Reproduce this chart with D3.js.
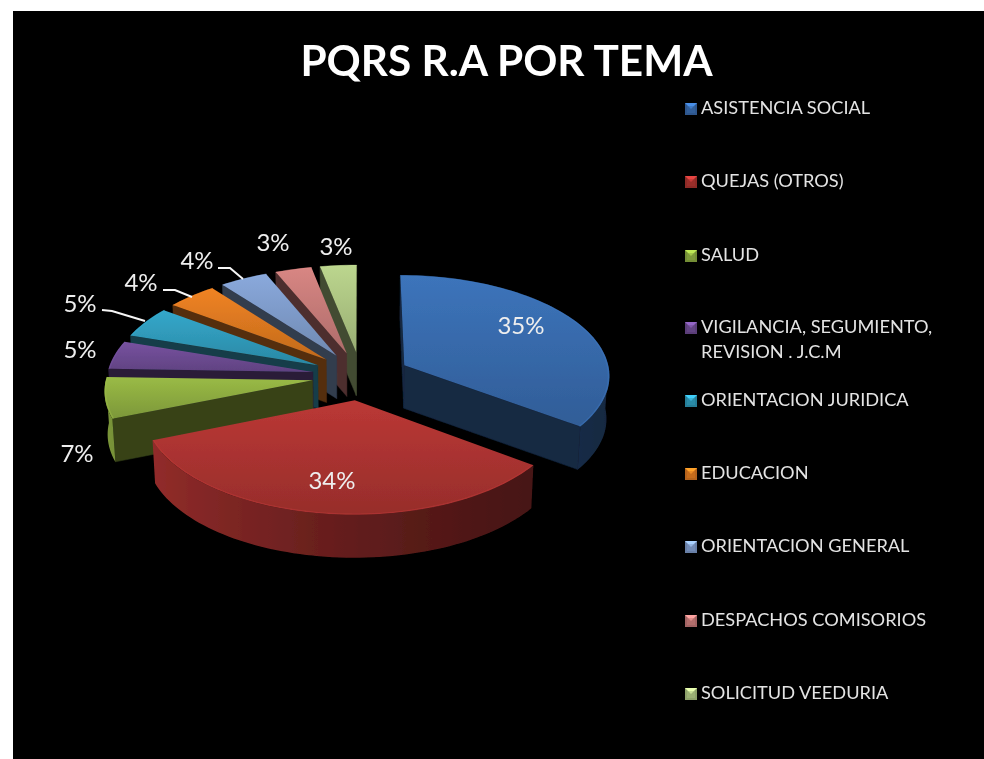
<!DOCTYPE html>
<html>
<head>
<meta charset="utf-8">
<script src="https://cdn.jsdelivr.net/npm/d3@7"></script>
<style>
  html, body { margin: 0; padding: 0; background: #fff; }
  svg { display: block; }
  text { font-family: Lato, "Open Sans", sans-serif; }
</style>
</head>
<body>
<svg></svg>
<script>
var categories = ["ASISTENCIA SOCIAL", "QUEJAS (OTROS)", "SALUD", "VIGILANCIA, SEGUMIENTO, REVISION . J.C.M", "ORIENTACION JURIDICA", "EDUCACION", "ORIENTACION GENERAL", "DESPACHOS COMISORIOS", "SOLICITUD VEEDURIA"];
// the chart only prints them rounded
var values = [35, 34, 6.5, 4.5, 5, 4.4, 4.2, 3.2, 3.2];
var colors = ["#3668a8", "#a83230", "#8aa83f", "#6b4a90", "#2f97b6", "#d8761f", "#7c98c6", "#c27876", "#a9c080"];

// where the percent labels sit, same order as categories
var labelX = [521, 332, 77, 80, 80, 141, 197, 273, 336];
var labelY = [325, 480, 453, 349, 303, 282, 260, 242, 246];
// leader lines, only three labels have one: [index, from, elbow, to]
var leaders = [
  [4, [102, 310], [112, 311], [145, 321]],
  [5, [163, 290], [175, 290], [192, 297]],
  [6, [218, 268], [230, 268], [243, 279]]
];

var width = 984;
var height = 759;

// pie geometry
var cx = 361, cy = 376;
var R = 206, squash = 101, persp = 0.09;
var explode = 49, wallH = 43;

var svg = d3.select("svg").attr("width", width).attr("height", height);
var defs = svg.append("defs");
defs.append("filter").attr("id", "soft")
    .attr("x", "-5%").attr("y", "-5%").attr("width", "110%").attr("height", "110%")
  .append("feGaussianBlur").attr("stdDeviation", 0.5);

svg.append("rect")
    .attr("x", 13).attr("y", 11)
    .attr("width", width - 13).attr("height", height - 11)
    .attr("fill", "#000");

var root = svg.append("g").attr("filter", "url(#soft)");

var color = d3.scaleOrdinal().domain(categories).range(colors);

var arcs = d3.pie().sort(null).value(d => d)(values);

var line = d3.line();

// world point on the pie plane to screen, h = 0 on top and 1 at the wall foot
function project(wx, wy, h) {
  var v = wy / R;
  var s = 1 + persp * v;
  var shrink = 1 - 0.012 * h;
  return [cx + wx * s * shrink, cy + squash * v * s + h * wallH];
}

function makeSlice(d, i) {
  var mid = (d.startAngle + d.endAngle) / 2;
  var ox = explode * Math.sin(mid);
  var oy = -explode * Math.cos(mid);
  var pt = (a, r, h) => project(ox + r * Math.sin(a), oy - r * Math.cos(a), h);
  var steps = Math.max(3, Math.ceil((d.endAngle - d.startAngle) / 0.03));
  var angles = d3.range(steps + 1).map(n => d.startAngle + (d.endAngle - d.startAngle) * n / steps);
  return {
    i: i,
    base: colors[i],
    pt: pt,
    angles: angles,
    top: [pt(0, 0, 0)].concat(angles.map(a => pt(a, R, 0)))
  };
}

var slices = arcs.map(makeSlice);

// back to front
var order = [8, 7, 6, 5, 4, 3, 2, 0, 1];
var pieG = root.append("g");

order.forEach(function(i) {
  var sl = slices[i];
  var g = pieG.append("g");
  var wallColor = d3.color(sl.base).darker(2.6).formatHex();
  var first = sl.angles[0], last = sl.angles[sl.angles.length - 1];

  // cut faces, only the ones that turn to the viewer
  var startWall = [sl.pt(0, 0, 0), sl.pt(first, R, 0), sl.pt(first, R, 1), sl.pt(0, 0, 1)];
  var endWall = [sl.pt(last, R, 0), sl.pt(0, 0, 0), sl.pt(0, 0, 1), sl.pt(last, R, 1)];
  [startWall, endWall].forEach(function(w) {
    if (d3.polygonArea(w) < 0) return;
    g.append("path")
        .attr("d", line(w) + "Z")
        .attr("fill", wallColor)
        .attr("stroke", wallColor)
        .attr("stroke-width", 0.5);
  });

  // outer wall, gets darker to the right
  var front = sl.angles.filter(a => Math.cos(a) < 0.02);
  if (front.length > 1) {
    var xs = front.map(a => sl.pt(a, R, 0)[0]);
    var x0 = d3.min(xs), x1 = d3.max(xs);
    var wallGrad = defs.append("linearGradient").attr("id", "wall" + i)
        .attr("gradientUnits", "userSpaceOnUse")
        .attr("x1", x0).attr("y1", 0).attr("x2", x1).attr("y2", 0);
    front.slice().sort((a, b) => sl.pt(a, R, 0)[0] - sl.pt(b, R, 0)[0]).forEach(function(a) {
      var shade = 0.3 + 2.4 * (Math.sin(a) + 1) / 2;
      wallGrad.append("stop")
          .attr("offset", (sl.pt(a, R, 0)[0] - x0) / (x1 - x0))
          .attr("stop-color", d3.color(sl.base).darker(shade).formatHex());
    });
    var outline = front.map(a => sl.pt(a, R, 0)).concat(front.slice().reverse().map(a => sl.pt(a, R, 1)));
    g.append("path")
        .attr("d", line(outline) + "Z")
        .attr("fill", "url(#wall" + i + ")");
  }

  // top face
  var gradId = "top" + i;
  var grad = defs.append("linearGradient").attr("id", gradId)
      .attr("x1", 0).attr("y1", 0).attr("x2", 0).attr("y2", 1);
  grad.append("stop").attr("offset", 0).attr("stop-color", d3.color(sl.base).brighter(0.3).formatHex());
  grad.append("stop").attr("offset", 1).attr("stop-color", d3.color(sl.base).darker(0.3).formatHex());

  g.append("path")
      .attr("d", line(sl.top) + "Z")
      .attr("fill", "url(#" + gradId + ")");

  // bevel on the rim
  g.append("path")
      .attr("d", line(sl.angles.map(a => sl.pt(a, R - 1, 0))))
      .attr("fill", "none")
      .attr("stroke", d3.color(sl.base).brighter(0.4).formatHex())
      .attr("stroke-opacity", 0.45)
      .attr("stroke-width", 1.4);
});

// leader lines
root.append("g").selectAll("path")
  .data(leaders)
  .enter().append("path")
    .attr("d", d => line(d.slice(1)))
    .attr("fill", "none")
    .attr("stroke", "#f6f6f6")
    .attr("stroke-width", 2);

// percent labels
root.append("g").selectAll("text")
  .data(values)
  .enter().append("text")
    .attr("x", (d, i) => labelX[i])
    .attr("y", (d, i) => labelY[i])
    .attr("dy", "0.36em")
    .attr("text-anchor", "middle")
    .attr("fill", "#eeeeee")
    .style("font-size", "24px")
    .text(d => Math.round(d) + "%");

// title
root.append("text")
    .attr("x", 506.5)
    .attr("y", 76)
    .attr("text-anchor", "middle")
    .attr("fill", "#fff")
    .style("font-size", "42.3px")
    .style("font-weight", 700)
    .text("PQRS R.A POR TEMA");

// legend
var legendBase = [114, 187, 261, 333, 406, 479, 552, 626, 699];
var legend = root.append("g").selectAll("g")
  .data(categories)
  .enter().append("g")
    .attr("transform", (d, i) => "translate(685," + (legendBase[i] - 11) + ")");

var sw = 12;
legend.append("rect")
    .attr("width", sw).attr("height", sw)
    .attr("fill", d => d3.color(color(d)).darker(0.5).formatHex());
legend.append("path")
    .attr("d", line([[0, 0], [sw, 0], [sw / 2, sw / 2]]) + "Z")
    .attr("fill", d => d3.color(color(d)).brighter(0.9).formatHex());
legend.append("path")
    .attr("d", line([[2, 3], [sw - 2, 3], [sw - 2, sw - 2], [2, sw - 2]]) + "Z")
    .attr("fill", d => color(d))
    .attr("fill-opacity", 0.5);

legend.each(function(d) {
  // the long name breaks after the comma
  var parts = d.indexOf(", REVISION") > -1 ? [d.split(" REVISION")[0], "REVISION" + d.split(" REVISION")[1]] : [d];
  var t = d3.select(this);
  parts.forEach(function(p, n) {
    t.append("text")
        .attr("x", 16)
        .attr("y", 11 + n * 25)
        .attr("fill", "#e4e4e4")
        .style("font-size", "18.2px")
        .text(p);
  });
});
</script>
</body>
</html>
